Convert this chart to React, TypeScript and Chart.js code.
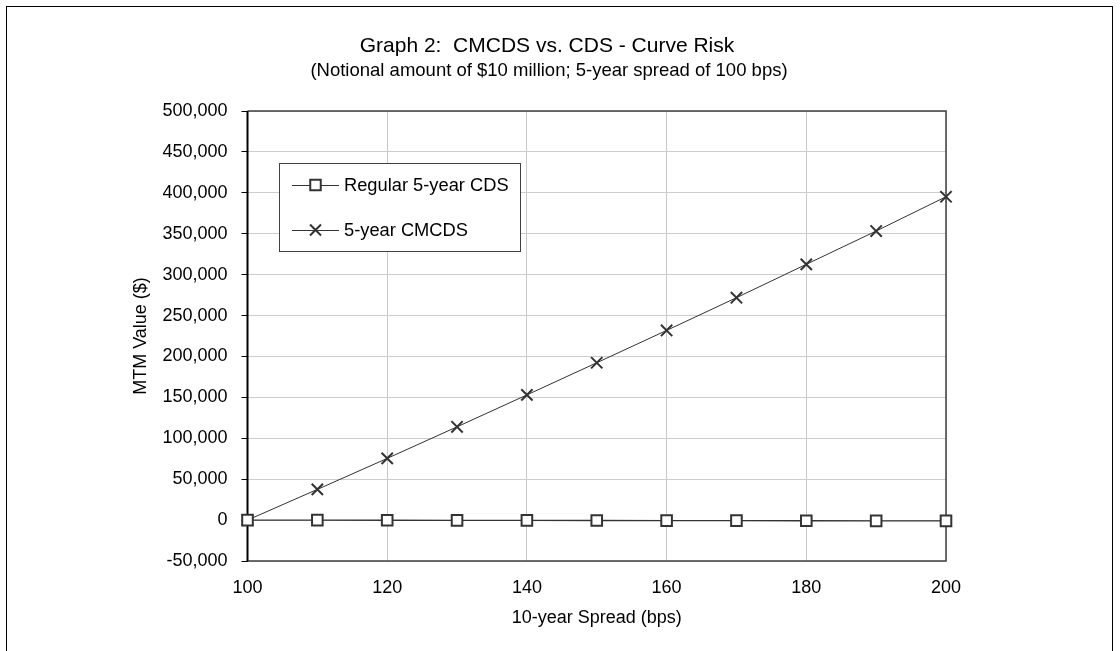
import React, { useEffect, useRef } from "react";
import { Chart, registerables } from "chart.js";

Chart.register(...registerables);

// ---- data ----
const spreads = [100, 110, 120, 130, 140, 150, 160, 170, 180, 190, 200];
const regularCDS = [0, -100, -200, -300, -400, -500, -600, -700, -800, -900, -1000];
const cmcds = [0, 37500, 75400, 114000, 153000, 192300, 231800, 271800, 312600, 353300, 395200];
const seriesNames = ["Regular 5-year CDS", "5-year CMCDS"];
const yMin = -50000;
const yMax = 500000;
const yStep = 50000;
const xMin = 100;
const xMax = 200;
const xStep = 20;
const titleText = "Graph 2:  CMCDS vs. CDS - Curve Risk";
const subtitleText = "(Notional amount of $10 million; 5-year spread of 100 bps)";
const xAxisTitle = "10-year Spread (bps)";
const yAxisTitle = "MTM Value ($)";

const FONT = "'Liberation Sans', Arial, sans-serif";
const INK = "#333333";

function drawSquare(ctx: CanvasRenderingContext2D, x: number, y: number, s: number) {
  ctx.save();
  ctx.fillStyle = "#ffffff";
  ctx.strokeStyle = INK;
  ctx.lineWidth = 2;
  ctx.beginPath();
  ctx.rect(x - s / 2, y - s / 2, s, s);
  ctx.fill();
  ctx.stroke();
  ctx.restore();
}

function drawX(ctx: CanvasRenderingContext2D, x: number, y: number, s: number) {
  ctx.save();
  ctx.strokeStyle = INK;
  ctx.lineWidth = 2;
  ctx.beginPath();
  ctx.moveTo(x - s / 2, y - s / 2);
  ctx.lineTo(x + s / 2, y + s / 2);
  ctx.moveTo(x + s / 2, y - s / 2);
  ctx.lineTo(x - s / 2, y + s / 2);
  ctx.stroke();
  ctx.restore();
}

const decorPlugin = {
  id: "decor",
  beforeDraw(chart: any) {
    const ctx = chart.ctx as CanvasRenderingContext2D;
    ctx.save();
    ctx.fillStyle = "#ffffff";
    ctx.fillRect(0, 0, chart.width, chart.height);
    // outer frame
    ctx.strokeStyle = "#000000";
    ctx.lineWidth = 1;
    ctx.strokeRect(6.5, 6.5, 1106, 700);
    // titles
    ctx.fillStyle = "#000000";
    ctx.textAlign = "center";
    ctx.textBaseline = "alphabetic";
    ctx.font = `21px ${FONT}`;
    ctx.fillText(titleText, 547, 52);
    ctx.font = `18.5px ${FONT}`;
    ctx.fillText(subtitleText, 549, 76);
    const a = chart.chartArea;
    ctx.textBaseline = "middle";
    ctx.font = `18px ${FONT}`;
    ctx.fillText(xAxisTitle, (a.left + a.right) / 2, 618);
    ctx.save();
    ctx.translate(141, (a.top + a.bottom) / 2);
    ctx.rotate(-Math.PI / 2);
    ctx.fillText(yAxisTitle, 0, 0);
    ctx.restore();
    ctx.restore();
  },
  beforeDatasetsDraw(chart: any) {
    const ctx = chart.ctx as CanvasRenderingContext2D;
    const a = chart.chartArea;
    ctx.save();
    ctx.strokeStyle = "#404040";
    ctx.lineWidth = 1.5;
    ctx.beginPath();
    ctx.moveTo(a.left, a.top);
    ctx.lineTo(a.right, a.top);
    ctx.lineTo(a.right, a.bottom);
    ctx.lineTo(a.left, a.bottom);
    ctx.stroke();
    ctx.strokeStyle = "#000000";
    ctx.lineWidth = 2;
    ctx.beginPath();
    ctx.moveTo(a.left, a.top);
    ctx.lineTo(a.left, a.bottom);
    ctx.stroke();
    ctx.restore();
  },
  afterDraw(chart: any) {
    const ctx = chart.ctx as CanvasRenderingContext2D;
    // legend box
    const bx = 279.5, by = 163.5, bw = 241, bh = 88;
    ctx.save();
    ctx.fillStyle = "#ffffff";
    ctx.fillRect(bx, by, bw, bh);
    ctx.strokeStyle = "#404040";
    ctx.lineWidth = 1;
    ctx.strokeRect(bx, by, bw, bh);
    const rows = [185, 230];
    ctx.font = `18.3px ${FONT}`;
    ctx.textAlign = "left";
    ctx.textBaseline = "middle";
    rows.forEach((yy, i) => {
      ctx.strokeStyle = INK;
      ctx.lineWidth = 1;
      ctx.beginPath();
      ctx.moveTo(292, yy + 0.5);
      ctx.lineTo(339, yy + 0.5);
      ctx.stroke();
      if (i === 0) drawSquare(ctx, 315.5, yy, 10.5);
      else drawX(ctx, 315.5, yy, 11);
      ctx.fillStyle = "#000000";
      ctx.fillText(seriesNames[i], 344, yy + 1);
    });
    ctx.restore();
  },
};

export default function App() {
  const ref = useRef<HTMLCanvasElement | null>(null);
  useEffect(() => {
    if (!ref.current) return;
    const chart = new Chart(ref.current, {
      type: "line",
      data: {
        datasets: [
          {
            label: seriesNames[0],
            data: spreads.map((x, i) => ({ x, y: regularCDS[i] })),
            borderColor: INK,
            borderWidth: 1.3,
            pointStyle: "rect",
            pointRadius: 7.5,
            pointBorderWidth: 2,
            pointBorderColor: INK,
            pointBackgroundColor: "#ffffff",
            clip: false as any,
            tension: 0,
          },
          {
            label: seriesNames[1],
            data: spreads.map((x, i) => ({ x, y: cmcds[i] })),
            borderColor: INK,
            borderWidth: 1,
            pointStyle: "crossRot",
            pointRadius: 8,
            pointBorderWidth: 2,
            pointBorderColor: INK,
            pointBackgroundColor: INK,
            clip: false as any,
            tension: 0,
          },
        ],
      },
      options: {
        animation: false,
        responsive: false,
        events: [],
        layout: { padding: { left: 0, right: 174, top: 111, bottom: 0 } },
        plugins: {
          legend: { display: false },
          title: { display: false },
          tooltip: { enabled: false },
        },
        scales: {
          x: {
            type: "linear",
            min: xMin,
            max: xMax,
            ticks: {
              stepSize: xStep,
              color: "#000000",
              font: { family: FONT, size: 18 },
              padding: 16,
            },
            grid: { color: "#c8c8c8", lineWidth: 1, drawTicks: false },
            border: { display: false },
            afterFit: (s: any) => {
              s.height = 90;
            },
          },
          y: {
            type: "linear",
            min: yMin,
            max: yMax,
            ticks: {
              stepSize: yStep,
              color: "#000000",
              font: { family: FONT, size: 18 },
              padding: 14,
              callback: (v: any) => Number(v).toLocaleString("en-US"),
            },
            grid: { color: "#cccccc", lineWidth: 1, drawTicks: true, tickLength: 6, tickColor: "#000000" },
            border: { display: false },
            afterFit: (s: any) => {
              s.width = 247.5;
            },
          },
        },
      },
      plugins: [decorPlugin],
    });
    return () => chart.destroy();
  }, []);
  return (
    <div style={{ position: "fixed", left: 0, top: 0, width: 1120, height: 651, background: "#fff" }}>
      <canvas ref={ref} width={1120} height={651} style={{ width: 1120, height: 651, display: "block" }} />
    </div>
  );
}
